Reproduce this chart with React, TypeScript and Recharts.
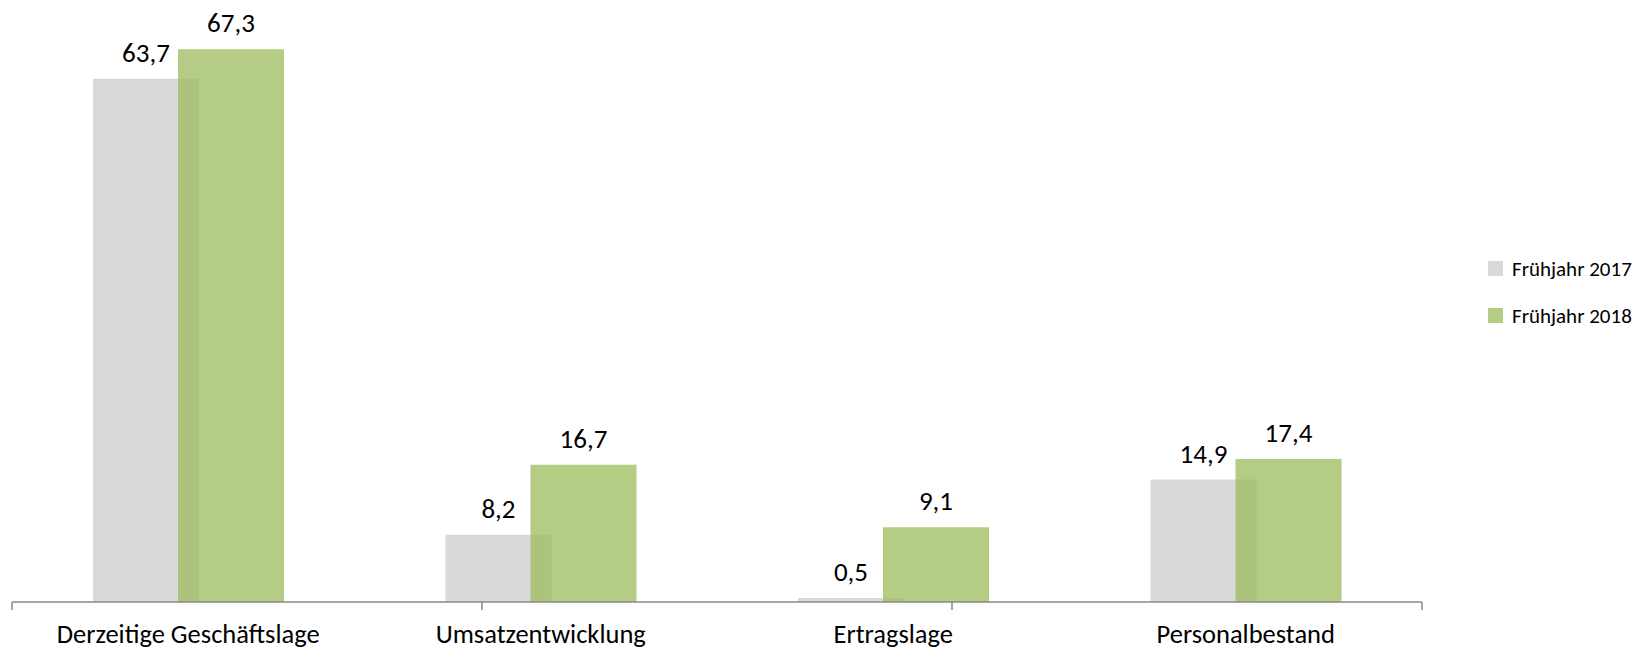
import React from "react";
import { BarChart, Bar, XAxis, YAxis, LabelList } from "recharts";

// Kategorien und Werte (Saldo in Prozentpunkten)
const categories = ["Derzeitige Geschäftslage", "Umsatzentwicklung", "Ertragslage", "Personalbestand"];
const values2017 = [63.7, 8.2, 0.5, 14.9];
const values2018 = [67.3, 16.7, 9.1, 17.4];
const seriesNames = ["Frühjahr 2017", "Frühjahr 2018"];
const boundaryTicks = [0, 1, 2, 3, 4];

const data = categories.map((name, i) => ({
  name,
  v2017: values2017[i],
  v2018: values2018[i],
}));

const FONT = "Carlito, Lato, sans-serif";
const GREY = "#D9D9D9";
const GREEN = "#9BBB59";

const fmt = (v: number) => String(v).replace(".", ",");

// Legende rechts, untereinander
function RightLegend() {
  const items = [
    { name: seriesNames[0], color: GREY, opacity: 1 },
    { name: seriesNames[1], color: GREEN, opacity: 0.75 },
  ];
  return (
    <div style={{ position: "absolute", left: 1488, top: 245, fontFamily: FONT, fontSize: 21, color: "#000" }}>
      {items.map((it) => (
        <div key={it.name} style={{ display: "flex", alignItems: "center", height: 47 }}>
          <div style={{ width: 15, height: 15, background: it.color, opacity: it.opacity, marginRight: 9 }} />
          <span>{it.name}</span>
        </div>
      ))}
    </div>
  );
}

export default function App() {
  return (
    <div style={{ position: "absolute", left: 0, top: 0, width: 1637, height: 650, background: "#fff" }}>
      <BarChart
        width={1637}
        height={650}
        data={data}
        margin={{ top: 27, right: 215, bottom: 0, left: 12 }}
        barSize={106}
        barGap={-21}
      >
        {/* Achse mit Teilstrichen an den Kategoriegrenzen */}
        <XAxis
          xAxisId="a"
          type="number"
          domain={[0, 4]}
          allowDataOverflow
          ticks={boundaryTicks}
          interval={0}
          height={1}
          tick={() => <g />}
          tickLine={{ stroke: "#898989", strokeWidth: 1.5 }}
          tickSize={8}
          stroke="#898989"
          strokeWidth={1.5}
        />
        <XAxis
          xAxisId="b"
          dataKey="name"
          height={47}
          axisLine={false}
          tickLine={false}
          tickMargin={15}
          tick={{ fill: "#000", fontSize: 26.5, fontFamily: FONT }}
          interval={0}
        />
        <YAxis hide domain={[0, 70]} />
        <Bar xAxisId="b" dataKey="v2017" name={seriesNames[0]} fill={GREY} isAnimationActive={false}>
          <LabelList dataKey="v2017" position="top" offset={17} formatter={fmt} fill="#000" fontSize={27} fontFamily={FONT} />
        </Bar>
        <Bar xAxisId="b" dataKey="v2018" name={seriesNames[1]} fill={GREEN} fillOpacity={0.75} isAnimationActive={false}>
          <LabelList dataKey="v2018" position="top" offset={17} formatter={fmt} fill="#000" fontSize={27} fontFamily={FONT} />
        </Bar>
      </BarChart>
      <RightLegend />
    </div>
  );
}
